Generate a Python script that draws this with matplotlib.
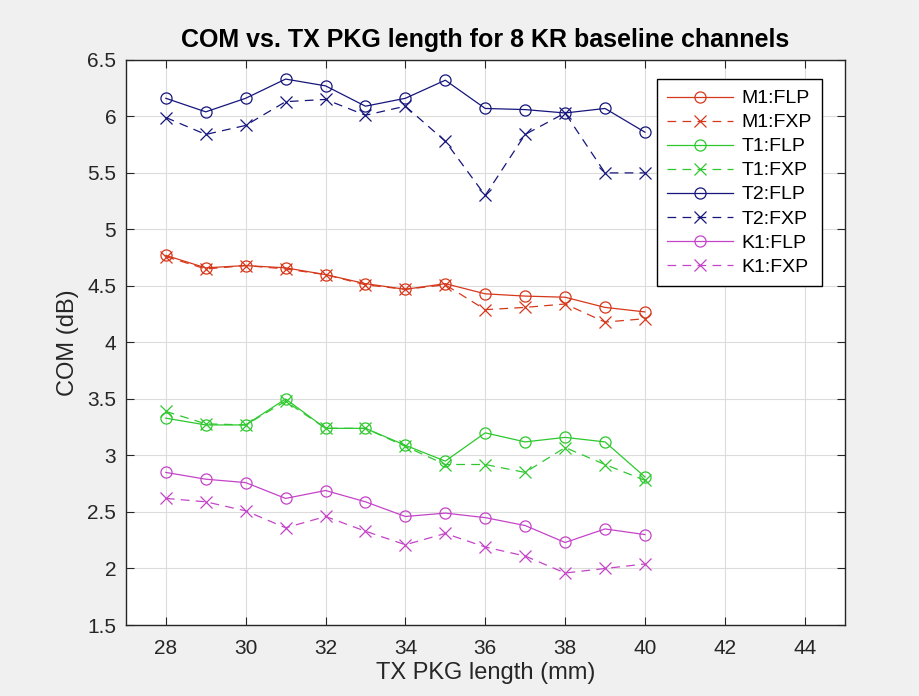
import matplotlib
matplotlib.use('Agg')
import matplotlib.pyplot as plt

x = [28, 29, 30, 31, 32, 33, 34, 35, 36, 37, 38, 39, 40]

m1_flp = [4.77, 4.66, 4.68, 4.66, 4.60, 4.52, 4.47, 4.52, 4.43, 4.41, 4.40, 4.31, 4.27]
m1_fxp = [4.76, 4.65, 4.68, 4.65, 4.60, 4.51, 4.47, 4.51, 4.29, 4.31, 4.34, 4.18, 4.21]
t1_flp = [3.33, 3.27, 3.27, 3.50, 3.24, 3.24, 3.09, 2.95, 3.20, 3.12, 3.16, 3.12, 2.81]
t1_fxp = [3.39, 3.28, 3.27, 3.48, 3.24, 3.24, 3.08, 2.92, 2.92, 2.85, 3.07, 2.92, 2.78]
t2_flp = [6.16, 6.04, 6.16, 6.33, 6.27, 6.09, 6.16, 6.32, 6.07, 6.06, 6.03, 6.07, 5.86]
t2_fxp = [5.99, 5.84, 5.92, 6.13, 6.15, 6.01, 6.09, 5.78, 5.30, 5.84, 6.03, 5.50, 5.50]
k1_flp = [2.85, 2.79, 2.76, 2.62, 2.69, 2.59, 2.46, 2.49, 2.45, 2.38, 2.23, 2.35, 2.30]
k1_fxp = [2.62, 2.59, 2.51, 2.36, 2.46, 2.33, 2.21, 2.31, 2.19, 2.11, 1.96, 2.00, 2.04]

series = [
    ("M1:FLP", m1_flp, "#d6381c", "-", "o"),
    ("M1:FXP", m1_fxp, "#d6381c", "--", "x"),
    ("T1:FLP", t1_flp, "#2ec82e", "-", "o"),
    ("T1:FXP", t1_fxp, "#2ec82e", "--", "x"),
    ("T2:FLP", t2_flp, "#16167c", "-", "o"),
    ("T2:FXP", t2_fxp, "#16167c", "--", "x"),
    ("K1:FLP", k1_flp, "#c444c8", "-", "o"),
    ("K1:FXP", k1_fxp, "#c444c8", "--", "x"),
]

plt.rcParams['font.family'] = ['Liberation Sans', 'DejaVu Sans']

fig = plt.figure(figsize=(9.19, 6.96), dpi=100, facecolor='#f0f0f0')
ax = fig.add_axes([0.137, 0.102, 0.782, 0.812])

for label, vals, col, ls, mk in series:
    dash = (0, (7, 5)) if ls == "--" else "-"
    ax.plot(x, vals, color=col, linestyle=dash, marker=mk, markersize=8,
            markerfacecolor='none', markeredgecolor=col, linewidth=0.9,
            markeredgewidth=0.9, label=label)

ax.set_xlim(27, 45)
ax.set_ylim(1.5, 6.5)
ax.set_xticks(range(28, 45, 2))
ax.set_yticks([1.5, 2, 2.5, 3, 3.5, 4, 4.5, 5, 5.5, 6, 6.5])
ax.set_yticklabels(['1.5', '2', '2.5', '3', '3.5', '4', '4.5', '5', '5.5', '6', '6.5'])
ax.grid(True, color='#dcdcdc', linewidth=0.8)
ax.set_axisbelow(True)
ax.tick_params(direction='in', top=True, right=True, labelsize=15,
               colors='#262626', length=6)
ax.tick_params(axis='x', pad=10)
ax.tick_params(axis='y', pad=7)
for s in ax.spines.values():
    s.set_color('#262626')
    s.set_linewidth(1.0)

ax.set_xlabel("TX PKG length (mm)", fontsize=17, color='#262626', labelpad=3)
ax.set_ylabel("COM (dB)", fontsize=17, color='#262626', labelpad=6)
ax.set_title("COM vs. TX PKG length for 8 KR baseline channels",
             fontsize=18, fontweight='bold', pad=9)

leg = ax.legend(loc='upper right', bbox_to_anchor=(0.969, 0.966), borderaxespad=0,
                fontsize=14, fancybox=False, edgecolor='black', framealpha=1,
                handlelength=3.4, handletextpad=0.4, labelspacing=0.33,
                borderpad=0.55)
leg.get_frame().set_linewidth(1.0)

fig.savefig("out.png", dpi=100, facecolor=fig.get_facecolor())
